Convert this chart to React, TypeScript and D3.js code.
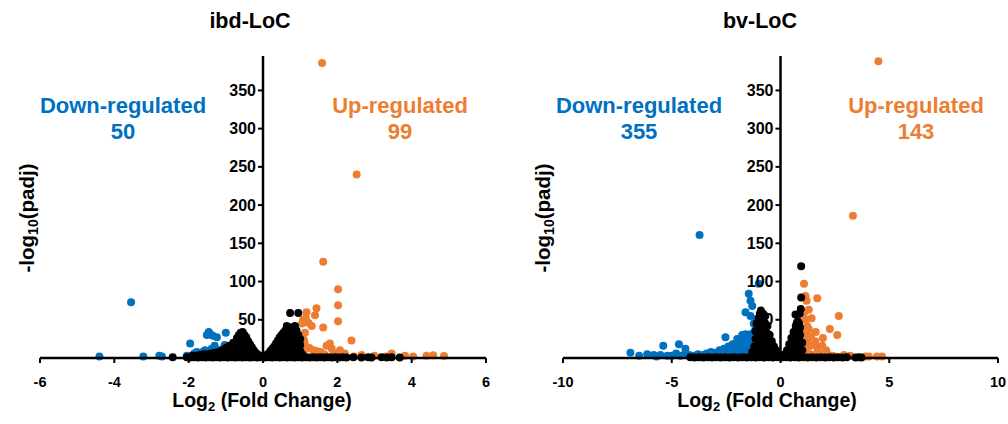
import React from 'react';
import * as d3 from 'd3';

type P = [number, number];

// ---------- ibd-LoC ----------
const ibdDown: P[] = [
  [-4.40, 2], [-3.55, 73], [-3.22, 2], [-2.79, 3], [-2.72, 2], [-2.05, 3], [-1.96, 19], [-1.90, 2],
  [-1.85, 6], [-1.78, 8], [-1.72, 3], [-1.65, 5], [-1.58, 2], [-1.56, 10], [-1.51, 30], [-1.46, 34],
  [-1.42, 31], [-1.38, 12], [-1.35, 29], [-1.33, 4], [-1.30, 16], [-1.27, 7], [-1.24, 27], [-1.20, 10],
  [-1.18, 3], [-1.14, 6], [-1.10, 9], [-1.06, 13], [-1.03, 17], [-1.00, 33], [-1.02, 4], [-1.45, 6],
  [-1.62, 8], [-1.88, 4],
];
const ibdUp: P[] = [
  [1.59, 386], [2.52, 240], [1.62, 126], [2.02, 90], [2.02, 69], [2.02, 48], [1.17, 60], [1.44, 65],
  [1.40, 56], [1.22, 46], [1.31, 42], [1.62, 40], [2.38, 23], [1.13, 33], [1.10, 24], [1.12, 19],
  [1.80, 19], [1.71, 16], [1.35, 10], [1.44, 9], [2.07, 10], [2.20, 6], [2.65, 4], [3.46, 6],
  [3.82, 3], [4.04, 2], [4.40, 3], [4.58, 3.5], [4.87, 2.5], [1.08, 50], [1.05, 45], [1.15, 52],
  [1.25, 13], [1.55, 8], [1.65, 5], [1.90, 6], [2.10, 3], [2.45, 2], [3.00, 3], [3.30, 2],
  [1.06, 14], [1.10, 8], [1.85, 12],
];
const ibdNS: P[] = [
  [-2.43, 1], [-2.05, 1], [-1.95, 0.5], [-1.85, 1], [-1.75, 0.5], [-1.65, 1], [-1.55, 0.5], [-1.45, 1],
  [-1.35, 0.5], [-1.25, 1], [-1.15, 0.5], [-1.05, 1], [-0.95, 0.5], [-0.85, 1], [-0.75, 0.5], [-0.65, 1],
  [-0.55, 0.5], [-0.45, 1], [-0.35, 0.5], [-0.25, 1], [-0.15, 0.5], [-0.05, 1], [0.05, 0.5], [0.15, 1],
  [0.25, 0.5], [0.35, 1], [0.45, 0.5], [0.55, 1], [0.65, 0.5], [0.75, 1], [0.85, 0.5], [0.95, 1],
  [1.05, 0.5], [1.15, 1], [1.25, 0.5], [1.35, 1], [1.45, 0.5], [1.55, 1], [1.65, 0.5], [1.75, 1],
  [1.85, 0.5], [1.95, 1], [2.05, 0.5], [2.15, 1], [2.25, 0.5], [2.43, 1], [2.65, 0.5], [2.83, 1],
  [2.92, 0.5], [3.19, 1], [3.33, 0.5], [3.46, 1], [3.68, 0.5],
  [-1.9, 3], [-1.8, 3], [-1.7, 4], [-1.6, 5], [-1.5, 5], [-1.4, 6], [-1.3, 7], [-1.2, 8], [-1.1, 10],
  [-1.1, 4], [-1.0, 13], [-1.0, 6], [-0.9, 16], [-0.9, 8], [-0.8, 20], [-0.8, 12], [-0.8, 5],
  [-0.7, 26], [-0.7, 18], [-0.7, 10], [-0.65, 30], [-0.65, 22], [-0.65, 14], [-0.65, 6], [-0.6, 33],
  [-0.6, 26], [-0.6, 18], [-0.6, 10], [-0.55, 34], [-0.55, 27], [-0.55, 19], [-0.55, 11], [-0.5, 30],
  [-0.5, 22], [-0.5, 14], [-0.5, 6], [-0.45, 27], [-0.45, 19], [-0.45, 11], [-0.4, 22], [-0.4, 14],
  [-0.4, 6], [-0.35, 18], [-0.35, 10], [-0.3, 14], [-0.3, 7], [-0.25, 10], [-0.25, 4], [-0.2, 7],
  [-0.15, 5], [-0.1, 3],
  [0.1, 4], [0.15, 6], [0.2, 9], [0.25, 12], [0.25, 5], [0.3, 15], [0.3, 7], [0.35, 19], [0.35, 10],
  [0.4, 23], [0.4, 14], [0.4, 6], [0.45, 27], [0.45, 18], [0.45, 10], [0.5, 30], [0.5, 22], [0.5, 14],
  [0.5, 6], [0.55, 33], [0.55, 25], [0.55, 17], [0.55, 9], [0.6, 36], [0.6, 28], [0.6, 20], [0.6, 12],
  [0.64, 42], [0.65, 38], [0.65, 30], [0.65, 22], [0.65, 14], [0.65, 6], [0.7, 40], [0.7, 32], [0.7, 24],
  [0.7, 16], [0.7, 8], [0.73, 59], [0.75, 40], [0.75, 32], [0.75, 24], [0.75, 16], [0.75, 8], [0.8, 40],
  [0.8, 32], [0.8, 24], [0.8, 16], [0.8, 8], [0.86, 42], [0.85, 38], [0.85, 30], [0.85, 22], [0.85, 14],
  [0.85, 6], [0.9, 36], [0.9, 28], [0.9, 20], [0.9, 12], [0.9, 4], [0.95, 59], [0.95, 30], [0.95, 22],
  [0.95, 14], [0.95, 6], [1.0, 25], [1.0, 17], [1.0, 9], [1.05, 5],
];

// ---------- bv-LoC ----------
const bvDown: P[] = [
  [-3.72, 161], [-1.0, 97], [-1.46, 84], [-1.38, 75], [-1.30, 68], [-1.61, 60], [-1.38, 55], [-1.23, 45],
  [-1.10, 51], [-2.53, 27], [-1.99, 25], [-1.76, 30], [-1.61, 31], [-1.38, 31],
  [-6.9, 7], [-6.13, 5], [-5.83, 4], [-5.52, 4], [-5.39, 16], [-4.67, 18], [-4.37, 12], [-4.8, 6],
  [-4.4, 5], [-5.0, 3], [-5.2, 3], [-4.6, 3], [-4.2, 4], [-4.0, 3], [-3.8, 5], [-3.6, 4], [-3.4, 6],
  [-3.2, 8], [-3.0, 7], [-2.8, 10], [-2.6, 12], [-2.4, 15], [-2.3, 10], [-2.2, 18], [-2.1, 14],
  [-2.0, 20], [-1.9, 16], [-1.8, 22], [-1.7, 26], [-1.6, 22], [-1.5, 28], [-1.4, 24], [-1.3, 30],
  [-1.2, 34], [-1.15, 38], [-1.1, 28], [-2.5, 6], [-2.2, 8], [-2.0, 10], [-1.8, 12], [-1.6, 14],
  [-1.4, 16], [-1.2, 20], [-1.1, 15], [-3.0, 3], [-2.7, 4], [-2.4, 5], [-1.9, 6], [-1.7, 8],
  [-1.5, 10], [-1.3, 12], [-1.2, 8], [-6.5, 3], [-5.7, 2], [-3.3, 3],
];
const bvUp: P[] = [
  [4.5, 388], [3.33, 186], [1.08, 97], [1.15, 81], [1.20, 75], [1.69, 78], [1.30, 63], [1.43, 52],
  [2.68, 55], [2.27, 38], [2.61, 30], [1.62, 34], [1.95, 26], [1.23, 42], [1.20, 32], [1.23, 24],
  [1.38, 16], [1.69, 14], [1.92, 16], [2.38, 3], [2.91, 4], [4.06, 2], [4.44, 2], [4.67, 2],
  [1.1, 60], [1.15, 50], [1.1, 35], [1.05, 28], [1.1, 20], [1.05, 12], [1.15, 8], [1.3, 6],
  [1.5, 4], [1.7, 8], [1.9, 5], [2.1, 10], [2.2, 4], [1.6, 22], [1.4, 28], [1.3, 38],
  [2.5, 2], [3.2, 3], [3.9, 2],
];
const bvNS: P[] = [
  [-4.15, 1], [-3.95, 0.5], [-3.75, 1], [-3.55, 0.5], [-3.35, 1], [-3.15, 0.5], [-2.95, 1], [-2.75, 0.5],
  [-2.55, 1], [-2.35, 0.5], [-2.15, 1], [-1.95, 0.5], [-1.75, 1], [-1.55, 0.5], [-1.35, 1], [-1.15, 0.5],
  [-0.95, 1], [-0.75, 0.5], [-0.55, 1], [-0.35, 0.5], [-0.15, 1], [0.05, 0.5], [0.25, 1], [0.45, 0.5],
  [0.65, 1], [0.85, 0.5], [1.05, 1], [1.25, 0.5], [1.45, 1], [1.65, 0.5], [1.85, 1], [2.05, 0.5],
  [2.25, 1], [2.45, 0.5], [2.65, 1], [2.85, 0.5], [3.05, 1], [3.45, 0.5], [3.6, 1], [3.72, 0.5],
  [-1.3, 8], [-1.2, 15], [-1.2, 5], [-1.15, 35], [-1.15, 25], [-1.15, 15], [-1.1, 45], [-1.1, 35],
  [-1.1, 25], [-1.1, 15], [-1.1, 5], [-1.0, 52], [-1.0, 42], [-1.0, 32], [-1.0, 22], [-1.0, 12],
  [-0.95, 58], [-0.95, 48], [-0.95, 38], [-0.95, 28], [-0.95, 18], [-0.95, 8], [-0.9, 62], [-0.9, 54],
  [-0.9, 44], [-0.9, 34], [-0.9, 24], [-0.9, 14], [-0.9, 4], [-0.8, 58], [-0.8, 48], [-0.8, 38],
  [-0.8, 28], [-0.8, 18], [-0.8, 8], [-0.7, 55], [-0.7, 45], [-0.7, 35], [-0.7, 25], [-0.7, 15],
  [-0.7, 5], [-0.6, 42], [-0.6, 32], [-0.6, 22], [-0.6, 12], [-0.5, 30], [-0.5, 20], [-0.5, 10],
  [-0.4, 22], [-0.4, 12], [-0.4, 4], [-0.3, 15], [-0.3, 6], [-0.2, 10], [-0.2, 3], [-0.1, 5],
  [0.2, 5], [0.3, 10], [0.3, 3], [0.4, 18], [0.4, 8], [0.5, 26], [0.5, 16], [0.5, 6], [0.6, 34],
  [0.6, 24], [0.6, 14], [0.6, 4], [0.7, 42], [0.7, 32], [0.7, 22], [0.7, 12], [0.75, 46], [0.75, 36],
  [0.75, 26], [0.75, 16], [0.75, 6], [0.8, 48], [0.8, 38], [0.8, 28], [0.8, 18], [0.8, 8], [0.85, 45],
  [0.85, 35], [0.85, 25], [0.85, 15], [0.9, 40], [0.9, 30], [0.9, 20], [0.9, 10], [1.0, 20], [1.0, 10],
  [0.95, 120], [0.95, 79], [0.93, 64], [0.69, 57], [0.88, 58],
];

const yTicks = [50, 100, 150, 200, 250, 300, 350];
const ibdXTicks = [-6, -4, -2, 0, 2, 4, 6];
const bvXTicks = [-10, -5, 0, 5, 10];

const BLUE = '#0070C0';
const ORANGE = '#ED7D31';
const FONT = '"Liberation Sans", Arial, sans-serif';

interface PanelProps {
  title: string;
  titleX: number;
  xDomain: [number, number];
  xRange: [number, number];
  xTicks: number[];
  down: P[];
  up: P[];
  ns: P[];
  downLabel: string;
  upLabel: string;
  downX: number;
  upX: number;
  yTitleX: number;
  xTitleX: number;
}

function Panel(p: PanelProps) {
  const x = d3.scaleLinear().domain(p.xDomain).range(p.xRange);
  const y = d3.scaleLinear().domain([0, 395]).range([358, 56]);
  const ax = x(0);
  const y0 = y(0);
  const r = 4;
  return (
    <g fontFamily={FONT} fontWeight="bold">
      <text x={p.titleX} y={28} textAnchor="middle" fontSize={21.5} fill="#000">{p.title}</text>
      {p.down.map((d, i) => (
        <circle key={'d' + i} cx={x(d[0])} cy={y(d[1])} r={r} fill={BLUE} />
      ))}
      {p.up.map((d, i) => (
        <circle key={'u' + i} cx={x(d[0])} cy={y(d[1])} r={r} fill={ORANGE} />
      ))}
      {p.ns.map((d, i) => (
        <circle key={'n' + i} cx={x(d[0])} cy={y(d[1])} r={r} fill="#000" />
      ))}
      {/* x axis */}
      <line x1={p.xRange[0]} x2={p.xRange[1]} y1={y0} y2={y0} stroke="#000" strokeWidth={2.5} />
      {p.xTicks.map((t) => (
        <g key={'xt' + t}>
          <line x1={x(t)} x2={x(t)} y1={y0} y2={y0 + 5} stroke="#000" strokeWidth={2} />
          <text x={x(t)} y={y0 + 29} textAnchor="middle" fontSize={14.5} fill="#000">{t}</text>
        </g>
      ))}
      {/* y axis */}
      <line x1={ax} x2={ax} y1={y0} y2={y(395)} stroke="#000" strokeWidth={2.5} />
      {yTicks.map((t) => (
        <g key={'yt' + t}>
          <line x1={ax - 5} x2={ax} y1={y(t)} y2={y(t)} stroke="#000" strokeWidth={2} />
          <text x={ax - 7} y={y(t) + 5.5} textAnchor="end" fontSize={16} fill="#000">{t}</text>
        </g>
      ))}
      <text x={p.xTitleX} y={407} textAnchor="middle" fontSize={19.5} fill="#000">
        Log<tspan fontSize={13} dy={4}>2</tspan><tspan dy={-4}> (Fold Change)</tspan>
      </text>
      <text transform={`translate(${p.yTitleX},218) rotate(-90)`} textAnchor="middle" fontSize={20.5} fill="#000">
        -log<tspan fontSize={14} dy={4}>10</tspan><tspan dy={-4}>(padj)</tspan>
      </text>
      <text x={p.downX} y={113} textAnchor="middle" fontSize={22} fill={BLUE}>Down-regulated</text>
      <text x={p.downX} y={139} textAnchor="middle" fontSize={22} fill={BLUE}>{p.downLabel}</text>
      <text x={p.upX} y={113} textAnchor="middle" fontSize={22} fill={ORANGE}>Up-regulated</text>
      <text x={p.upX} y={139} textAnchor="middle" fontSize={22} fill={ORANGE}>{p.upLabel}</text>
    </g>
  );
}

export default function App() {
  return (
    <svg width={1008} height={424} style={{ position: 'absolute', left: 0, top: 0, background: '#fff' }}>
      <rect width={1008} height={424} fill="#fff" />
      <Panel title="ibd-LoC" titleX={250} xDomain={[-6, 6]} xRange={[40, 486]} xTicks={ibdXTicks}
        down={ibdDown} up={ibdUp} ns={ibdNS} downLabel="50" upLabel="99" downX={123} upX={400}
        yTitleX={34} xTitleX={262} />
      <Panel title="bv-LoC" titleX={760} xDomain={[-10, 10]} xRange={[563, 998]} xTicks={bvXTicks}
        down={bvDown} up={bvUp} ns={bvNS} downLabel="355" upLabel="143" downX={639} upX={916}
        yTitleX={550} xTitleX={767} />
    </svg>
  );
}
